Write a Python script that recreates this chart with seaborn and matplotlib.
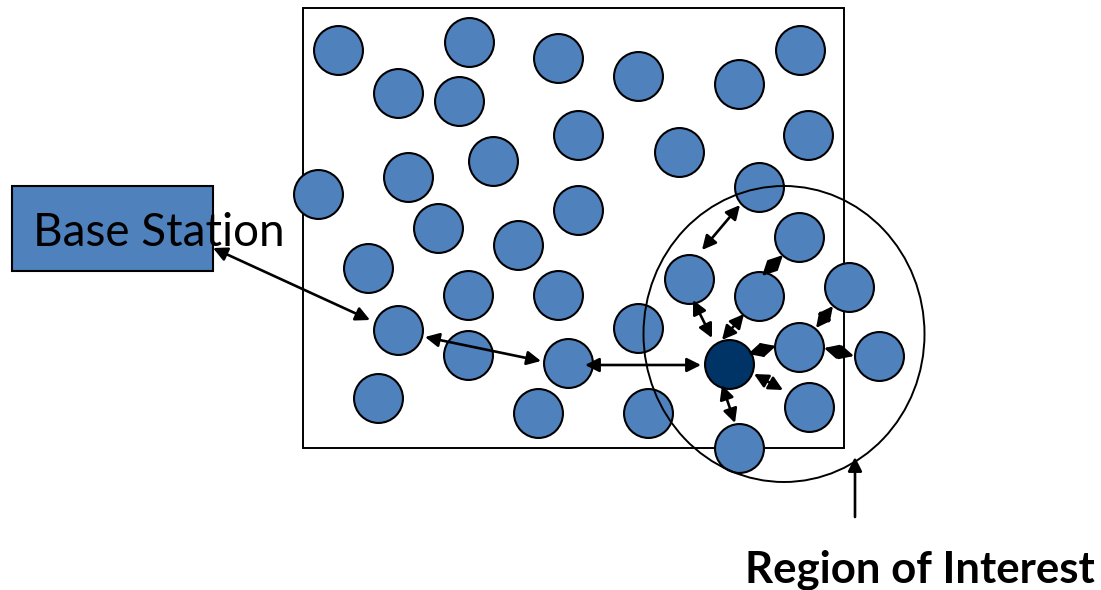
import seaborn as sns
import pandas as pd
import matplotlib.pyplot as plt
from matplotlib.patches import Rectangle, Ellipse

# sensor nodes in the field (pixel-like coordinates, y grows downward)
nodeX = [338, 469, 558, 638, 739, 800, 398, 459, 578, 679, 808, 493, 408, 318,
         438, 578, 518, 759, 368, 468, 558, 689, 799, 759, 849, 398, 468, 638,
         568, 799, 879, 378, 538, 648, 809, 739]
nodeY = [50, 42, 58, 76, 84, 50, 93, 101, 135, 152, 135, 161, 177, 194,
         228, 210, 245, 187, 268, 295, 295, 279, 237, 296, 287, 330, 355, 328,
         363, 347, 356, 398, 413, 413, 407, 448]
sinkX = [729]
sinkY = [364]

# links drawn as double arrows: (x1, y1, x2, y2)
links = [
    (213, 248, 370, 320),
    (425, 337, 541, 361),
    (585, 365, 701, 365),
    (712, 338, 693, 300),
    (702, 250, 740, 205),
    (762, 276, 783, 255),
    (722, 340, 744, 314),
    (816, 328, 833, 306),
    (748, 354, 776, 346),
    (824, 348, 854, 356),
    (754, 374, 783, 390),
    (722, 385, 735, 423),
]

nodes = pd.DataFrame({'x': nodeX, 'y': nodeY})
sink = pd.DataFrame({'x': sinkX, 'y': sinkY})

fig = plt.figure(figsize=(11.01, 5.9), dpi=100)
ax = fig.add_axes([0, 0, 1, 1])
ax.set_xlim(0, 1101)
ax.set_ylim(590, 0)
ax.axis('off')

ax.add_patch(Rectangle((303, 8), 541, 440, fill=False, edgecolor='black', lw=1.4, zorder=1))

sns.scatterplot(data=nodes, x='x', y='y', s=1240, color='#4F81BD',
                edgecolor='black', linewidth=1.5, ax=ax, zorder=3, legend=False)
sns.scatterplot(data=sink, x='x', y='y', s=1240, color='#003366',
                edgecolor='black', linewidth=1.5, ax=ax, zorder=3, legend=False)

ax.add_patch(Ellipse((784, 334), 281, 296, fill=False, edgecolor='black', lw=1.4, zorder=4))

ax.add_patch(Rectangle((12, 186), 201, 85, facecolor='#4F81BD', edgecolor='black', lw=1.5, zorder=2))
ax.text(33, 246, 'Base Station', fontsize=33, family='Lato', color='black',
        va='baseline', ha='left', zorder=6)

for x1, y1, x2, y2 in links:
    ax.annotate('', xy=(x2, y2), xytext=(x1, y1),
                arrowprops=dict(arrowstyle='<|-|>', color='black', lw=1.9,
                                mutation_scale=21, shrinkA=0, shrinkB=0),
                zorder=5)

ax.annotate('', xy=(855, 457), xytext=(855, 517),
            arrowprops=dict(arrowstyle='-|>', color='black', lw=1.9,
                            mutation_scale=21, shrinkA=0, shrinkB=0),
            zorder=5)
ax.text(1095, 582, 'Region of Interest', fontsize=31.5, family='Lato', weight='bold',
        color='black', va='baseline', ha='right')

fig.savefig('out.png', dpi=100)
